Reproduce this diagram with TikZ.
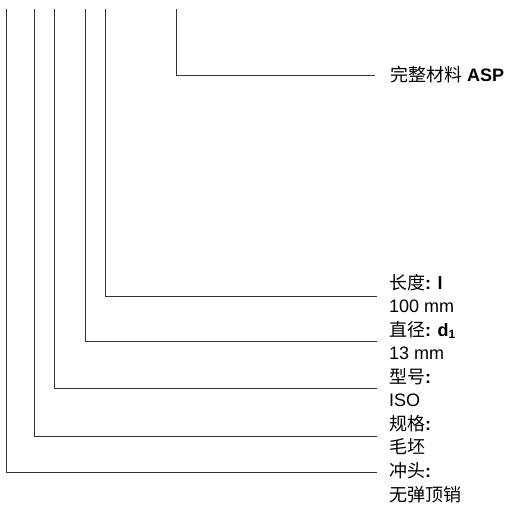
\documentclass[tikz,border=0pt]{standalone}
\usepackage{fontspec}
\setmainfont{Liberation Sans}
\newfontfamily\cjk{Noto Sans CJK SC}
\begin{document}
\begin{tikzpicture}[x=1pt,y=1pt,
  lead/.style={draw=black!80,line width=1pt},
  lbl/.style={anchor=base west,inner sep=0pt,outer sep=0pt,font=\fontsize{18}{22}\selectfont}]
\useasboundingbox (0,0) rectangle (510,504);
% tops of the leaders
\coordinate (t0) at (176,495);
\coordinate (t1) at (105,495);
\coordinate (t2) at (85,495);
\coordinate (t3) at (54,495);
\coordinate (t4) at (34,495);
\coordinate (t5) at (6,495);
% ends of the leaders
\coordinate (e0) at (375,428);
\coordinate (e1) at (377,208);
\coordinate (e2) at (377,163);
\coordinate (e3) at (377,116);
\coordinate (e4) at (377,68);
\coordinate (e5) at (377,32);
\draw[lead] (t0) |- (e0);
\draw[lead] (t1) |- (e1);
\draw[lead] (t2) |- (e2);
\draw[lead] (t3) |- (e3);
\draw[lead] (t4) |- (e4);
\draw[lead] (t5) |- (e5);
% labels
\node[lbl] (asp) at (390,422) {{\cjk 完整材料} \textbf{ASP}};
\node[lbl] (len) at (389,215) {{\cjk 长度}\textbf{: l}};
\node[lbl] (lenv) at (389,191.5) {100 mm};
\node[lbl] (dia) at (389,168) {{\cjk 直径}\textbf{: d\raisebox{-0.3ex}{\fontsize{12}{12}\selectfont 1}}};
\node[lbl] (diav) at (389,144.3) {13 mm};
\node[lbl] (typ) at (389,120.8) {{\cjk 型号}\textbf{:}};
\node[lbl] (typv) at (389,97.2) {ISO};
\node[lbl] (spec) at (389,73.7) {{\cjk 规格}\textbf{:}};
\node[lbl] (specv) at (389,50.1) {\cjk 毛坯};
\node[lbl] (pun) at (389,26.6) {{\cjk 冲头}\textbf{:}};
\node[lbl] (punv) at (389,3) {\cjk 无弹顶销};
\end{tikzpicture}
\end{document}
